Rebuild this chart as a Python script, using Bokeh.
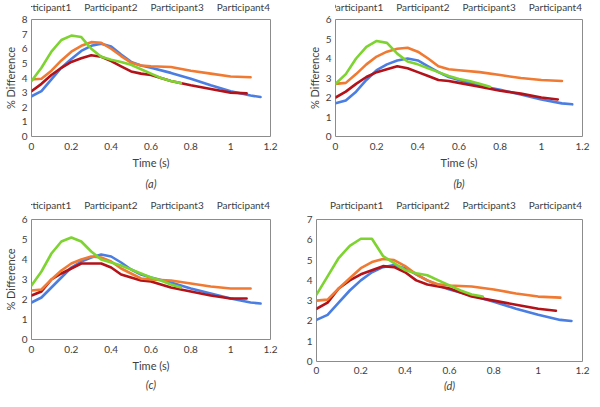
from bokeh.plotting import figure
from bokeh.layouts import column, row
from bokeh.models import Range1d, FixedTicker, Legend, LegendItem, Title
from bokeh.embed import file_html
from bokeh.resources import INLINE

series_names = ["Participant1", "Participant2", "Participant3", "Participant4"]
colors = ["#4A7EE3", "#B31218", "#F07A32", "#7DD32F"]

x_ticks = [0, 0.2, 0.4, 0.6, 0.8, 1.0, 1.2]
x_tick_labels = ["0", "0.2", "0.4", "0.6", "0.8", "1", "1.2"]

t_p1 = [0, 0.05, 0.1, 0.15, 0.2, 0.25, 0.3, 0.35, 0.4, 0.45, 0.5, 0.55, 0.6, 0.7, 0.8, 0.9, 1.0, 1.1, 1.15]
t_p2 = [0, 0.05, 0.1, 0.15, 0.2, 0.25, 0.3, 0.35, 0.4, 0.45, 0.5, 0.55, 0.6, 0.7, 0.8, 0.9, 1.0, 1.08]
t_p3 = [0, 0.05, 0.1, 0.15, 0.2, 0.25, 0.3, 0.35, 0.4, 0.45, 0.5, 0.55, 0.6, 0.7, 0.8, 0.9, 1.0, 1.1]
t_p4 = [0, 0.05, 0.1, 0.15, 0.2, 0.25, 0.3, 0.35, 0.4, 0.45, 0.5, 0.55, 0.6, 0.65, 0.7, 0.75]

# panel (a)
a_p1 = [2.75, 3.1, 3.9, 4.7, 5.3, 5.85, 6.2, 6.35, 6.15, 5.6, 5.1, 4.85, 4.7, 4.35, 3.95, 3.5, 3.1, 2.8, 2.7]
a_p2 = [3.1, 3.6, 4.2, 4.7, 5.1, 5.35, 5.55, 5.45, 5.15, 4.8, 4.45, 4.3, 4.2, 3.8, 3.5, 3.25, 3.0, 2.95]
a_p3 = [3.9, 3.95, 4.5, 5.2, 5.8, 6.2, 6.45, 6.4, 6.0, 5.5, 5.05, 4.85, 4.8, 4.75, 4.5, 4.3, 4.1, 4.05]
a_p4 = [3.8, 4.7, 5.8, 6.6, 6.9, 6.8, 6.0, 5.45, 5.25, 5.1, 4.9, 4.6, 4.3, 4.0, 3.8, 3.65]

# panel (b)
b_p1 = [1.7, 1.85, 2.3, 2.9, 3.4, 3.7, 3.9, 4.0, 3.9, 3.6, 3.3, 3.05, 2.9, 2.6, 2.4, 2.15, 1.9, 1.7, 1.65]
b_p2 = [2.0, 2.3, 2.7, 3.05, 3.3, 3.45, 3.6, 3.5, 3.3, 3.1, 2.9, 2.85, 2.75, 2.55, 2.35, 2.2, 2.0, 1.9]
b_p3 = [2.7, 2.75, 3.2, 3.7, 4.1, 4.35, 4.5, 4.55, 4.35, 4.0, 3.6, 3.45, 3.4, 3.3, 3.15, 3.0, 2.9, 2.85]
b_p4 = [2.7, 3.2, 4.0, 4.6, 4.9, 4.8, 4.25, 3.85, 3.7, 3.5, 3.3, 3.1, 2.95, 2.85, 2.7, 2.55]

# panel (c)
c_p1 = [1.85, 2.1, 2.6, 3.1, 3.6, 3.9, 4.1, 4.25, 4.15, 3.85, 3.5, 3.25, 3.1, 2.85, 2.55, 2.3, 2.05, 1.85, 1.8]
c_p2 = [2.2, 2.4, 3.0, 3.3, 3.55, 3.8, 3.8, 3.8, 3.6, 3.25, 3.1, 2.95, 2.9, 2.6, 2.4, 2.2, 2.05, 2.05]
c_p3 = [2.45, 2.5, 3.0, 3.45, 3.8, 4.0, 4.15, 4.1, 3.9, 3.55, 3.3, 3.05, 3.0, 2.95, 2.8, 2.65, 2.55, 2.55]
c_p4 = [2.7, 3.4, 4.3, 4.9, 5.1, 4.9, 4.4, 4.0, 3.85, 3.7, 3.5, 3.3, 3.1, 2.95, 2.75, 2.6]

# panel (d)
d_p1 = [2.05, 2.3, 2.9, 3.5, 4.0, 4.4, 4.65, 4.75, 4.6, 4.3, 4.0, 3.75, 3.55, 3.25, 2.95, 2.6, 2.3, 2.05, 2.0]
d_p2 = [2.6, 2.9, 3.6, 4.0, 4.3, 4.5, 4.7, 4.65, 4.4, 4.0, 3.8, 3.7, 3.6, 3.2, 3.0, 2.8, 2.6, 2.5]
d_p3 = [3.0, 3.05, 3.6, 4.1, 4.6, 4.9, 5.05, 5.0, 4.7, 4.3, 4.0, 3.8, 3.75, 3.7, 3.55, 3.35, 3.2, 3.15]
d_p4 = [3.3, 4.2, 5.1, 5.7, 6.05, 6.05, 5.2, 4.85, 4.5, 4.35, 4.25, 4.0, 3.75, 3.5, 3.3, 3.2]

FONT = "Lato"
TXT = "#404040"


def make_legend_fig(W, h, br):
    lf = figure(width=W, height=h, output_backend="svg", toolbar_location=None,
                x_axis_location=None, y_axis_location=None,
                min_border_left=0, min_border_right=br, min_border_top=0, min_border_bottom=0)
    lf.title.visible = False
    lf.outline_line_color = None
    lf.grid.visible = False
    rs = [lf.line(x=[], y=[], line_color=c, line_width=2.6) for c in colors]
    legend = Legend(items=[LegendItem(label=n, renderers=[r]) for n, r in zip(series_names, rs)],
                    orientation="horizontal", location="bottom_right",
                    glyph_width=11, glyph_height=12, label_height=12, label_standoff=1,
                    spacing=1, padding=0, margin=0, border_line_alpha=0,
                    background_fill_alpha=0, label_text_font=FONT,
                    label_text_font_size="10px", label_text_color=TXT)
    lf.add_layout(legend)
    return lf


def make_panel(tag, ymax, ys, W, H, bl, br, bt, bb, ylabel, xlabel, tag_standoff, xstand):
    p = figure(width=W, height=H, x_range=Range1d(0, 1.2), y_range=Range1d(0, ymax),
               output_backend="svg", toolbar_location=None,
               min_border_left=bl, min_border_right=br, min_border_top=bt, min_border_bottom=bb)
    p.title.visible = False
    p.grid.visible = False
    p.outline_line_color = "#8c8c8c"
    p.outline_line_width = 1
    for ax in (p.xaxis[0], p.yaxis[0]):
        ax.axis_line_color = None
        ax.major_tick_line_color = None
        ax.minor_tick_line_color = None
        ax.major_tick_out = 0
        ax.major_tick_in = 0
        ax.minor_tick_out = 0
        ax.minor_tick_in = 0
        ax.major_label_text_font = FONT
        ax.major_label_text_font_size = "10px"
        ax.major_label_text_color = TXT
        ax.axis_label_text_font = FONT
        ax.axis_label_text_font_size = "11px"
        ax.axis_label_text_font_style = "normal"
        ax.axis_label_text_color = TXT
    p.xaxis.ticker = FixedTicker(ticks=x_ticks)
    p.xaxis.major_label_overrides = {float(k): v for k, v in zip(x_ticks, x_tick_labels)}
    p.xaxis.major_label_standoff = xstand
    p.yaxis.ticker = FixedTicker(ticks=list(range(0, ymax + 1)))
    p.yaxis.major_label_standoff = 4
    if ylabel:
        p.yaxis.axis_label = ylabel
        p.yaxis.axis_label_standoff = 2
    if xlabel:
        p.xaxis.axis_label = xlabel
        p.xaxis.axis_label_standoff = 3
    for color, t, y in zip(colors, [t_p1, t_p2, t_p3, t_p4], ys):
        p.line(t, y, line_color=color, line_width=2.6, line_join="round", line_cap="round")
    p.add_layout(Title(text=tag, align="center", text_font=FONT, text_font_size="11px",
                       text_font_style="italic", text_color=TXT, standoff=tag_standoff), "below")
    return p


la = make_legend_fig(292, 13, 22)
pa = make_panel("(a)", 8, [a_p1, a_p2, a_p3, a_p4], 292, 181, 21, 22, 6, 58, "% Difference", "Time (s)", 6, 6)
lb = make_legend_fig(298, 13, 8)
pb = make_panel("(b)", 6, [b_p1, b_p2, b_p3, b_p4], 298, 181, 43, 8, 6, 58, "% Difference", "Time (s)", 6, 6)
lc = make_legend_fig(292, 17, 22)
pc = make_panel("(c)", 6, [c_p1, c_p2, c_p3, c_p4], 292, 180, 21, 22, 8, 49, "% Difference", "Time (s)", 2, 6)
ld = make_legend_fig(298, 17, 8)
pd = make_panel("(d)", 7, [d_p1, d_p2, d_p3, d_p4], 298, 180, 24, 8, 8, 30, None, None, 0, 5)

layout = column(row(column(la, pa), column(lb, pb)), row(column(lc, pc), column(ld, pd)))
open("out.html", "w").write(file_html(layout, INLINE))
